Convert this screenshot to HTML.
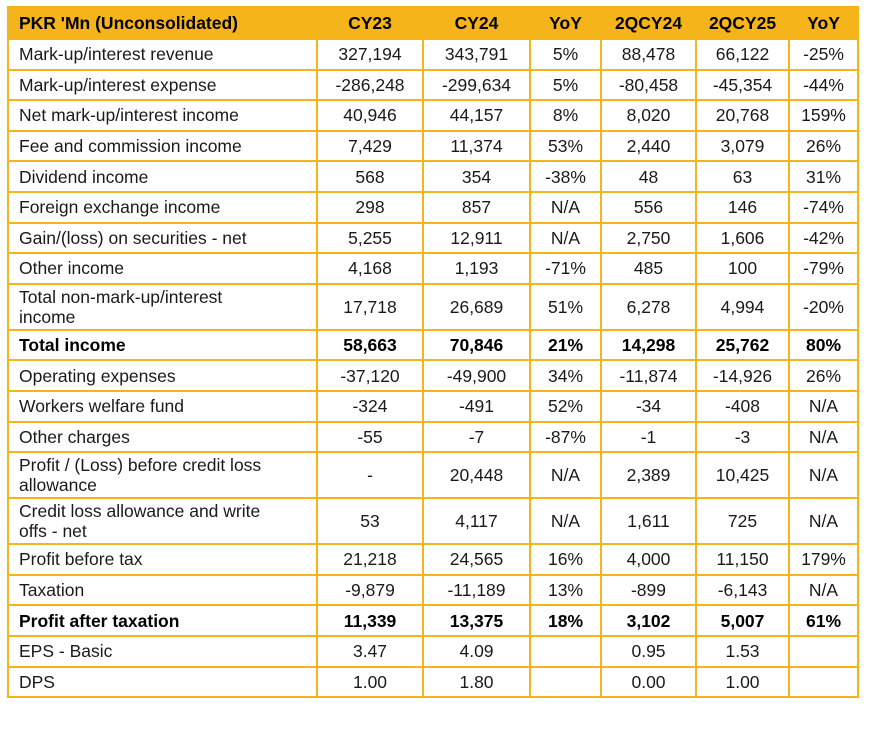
<!DOCTYPE html>
<html><head><style>
body{margin:0;background:#fff;width:871px;height:731px;overflow:hidden}
table{position:absolute;left:7px;top:6px;border-collapse:collapse;font-family:"Liberation Sans",sans-serif;font-size:17.5px;color:#1a1a1a;table-layout:fixed}
td,th{border:2px solid #F5B41A;padding:0;text-align:center;line-height:20px}
td:first-child,th:first-child{text-align:left;padding-left:10px}
th{background:#F5B41A;font-weight:bold;color:#000}
tr{height:30.6px}
tr.h{height:32px}
tr.t{height:46px}
tr.b td{font-weight:bold;color:#000}
</style></head><body>
<table>
<colgroup><col style="width:309px"><col style="width:106px"><col style="width:107px"><col style="width:71px"><col style="width:95px"><col style="width:93px"><col style="width:69px"></colgroup>
<tr class="h"><th>PKR 'Mn (Unconsolidated)</th><th>CY23</th><th>CY24</th><th>YoY</th><th>2QCY24</th><th>2QCY25</th><th>YoY</th></tr>
<tr><td>Mark-up/interest revenue</td><td>327,194</td><td>343,791</td><td>5%</td><td>88,478</td><td>66,122</td><td>-25%</td></tr>
<tr><td>Mark-up/interest expense</td><td>-286,248</td><td>-299,634</td><td>5%</td><td>-80,458</td><td>-45,354</td><td>-44%</td></tr>
<tr><td>Net mark-up/interest income</td><td>40,946</td><td>44,157</td><td>8%</td><td>8,020</td><td>20,768</td><td>159%</td></tr>
<tr><td>Fee and commission income</td><td>7,429</td><td>11,374</td><td>53%</td><td>2,440</td><td>3,079</td><td>26%</td></tr>
<tr><td>Dividend income</td><td>568</td><td>354</td><td>-38%</td><td>48</td><td>63</td><td>31%</td></tr>
<tr><td>Foreign exchange income</td><td>298</td><td>857</td><td>N/A</td><td>556</td><td>146</td><td>-74%</td></tr>
<tr><td>Gain/(loss) on securities - net</td><td>5,255</td><td>12,911</td><td>N/A</td><td>2,750</td><td>1,606</td><td>-42%</td></tr>
<tr><td>Other income</td><td>4,168</td><td>1,193</td><td>-71%</td><td>485</td><td>100</td><td>-79%</td></tr>
<tr class="t"><td>Total non-mark-up/interest<br>income</td><td>17,718</td><td>26,689</td><td>51%</td><td>6,278</td><td>4,994</td><td>-20%</td></tr>
<tr class="b"><td>Total income</td><td>58,663</td><td>70,846</td><td>21%</td><td>14,298</td><td>25,762</td><td>80%</td></tr>
<tr><td>Operating expenses</td><td>-37,120</td><td>-49,900</td><td>34%</td><td>-11,874</td><td>-14,926</td><td>26%</td></tr>
<tr><td>Workers welfare fund</td><td>-324</td><td>-491</td><td>52%</td><td>-34</td><td>-408</td><td>N/A</td></tr>
<tr><td>Other charges</td><td>-55</td><td>-7</td><td>-87%</td><td>-1</td><td>-3</td><td>N/A</td></tr>
<tr class="t"><td>Profit / (Loss) before credit loss<br>allowance</td><td>-</td><td>20,448</td><td>N/A</td><td>2,389</td><td>10,425</td><td>N/A</td></tr>
<tr class="t"><td>Credit loss allowance and write<br>offs - net</td><td>53</td><td>4,117</td><td>N/A</td><td>1,611</td><td>725</td><td>N/A</td></tr>
<tr><td>Profit before tax</td><td>21,218</td><td>24,565</td><td>16%</td><td>4,000</td><td>11,150</td><td>179%</td></tr>
<tr><td>Taxation</td><td>-9,879</td><td>-11,189</td><td>13%</td><td>-899</td><td>-6,143</td><td>N/A</td></tr>
<tr class="b"><td>Profit after taxation</td><td>11,339</td><td>13,375</td><td>18%</td><td>3,102</td><td>5,007</td><td>61%</td></tr>
<tr><td>EPS - Basic</td><td>3.47</td><td>4.09</td><td></td><td>0.95</td><td>1.53</td><td></td></tr>
<tr><td>DPS</td><td>1.00</td><td>1.80</td><td></td><td>0.00</td><td>1.00</td><td></td></tr>
</table>
</body></html>
